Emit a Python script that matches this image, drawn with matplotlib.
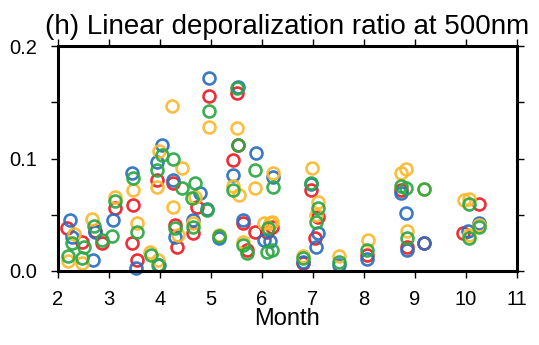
import matplotlib
matplotlib.use("Agg")
import matplotlib.pyplot as plt
from matplotlib.ticker import MultipleLocator

plt.rcParams['font.family'] = ['Liberation Sans', 'DejaVu Sans']

# Data: (month, depolarization ratio) per series
red_x = [2.18, 2.47, 2.73, 2.86, 3.12, 3.47, 3.45, 3.55, 3.95, 4.26, 4.30, 4.34, 4.65, 4.73,
         4.97, 5.50, 5.52, 5.44, 5.63, 5.71, 5.87, 6.10, 6.20,
         6.97, 7.09, 7.03, 6.81, 8.05, 8.72, 8.84, 9.17, 10.25, 9.94]
red_y = [0.038, 0.026, 0.036, 0.025, 0.056, 0.059, 0.025, 0.010, 0.081, 0.078, 0.041, 0.021, 0.034, 0.057,
         0.156, 0.158, 0.112, 0.099, 0.043, 0.019, 0.035, 0.035, 0.039,
         0.072, 0.048, 0.029, 0.007, 0.014, 0.072, 0.021, 0.025, 0.060, 0.034]

blue_x = [2.24, 2.28, 2.69, 2.73, 3.08, 3.45, 3.53, 3.98, 4.04, 3.95, 4.26, 4.65, 4.30, 4.79,
          4.97, 5.52, 5.44, 4.93, 5.16, 5.63, 5.89, 6.03, 6.16, 6.22,
          6.97, 7.09, 7.05, 6.81, 7.50, 8.05, 8.72, 8.82, 8.84, 9.17, 10.04, 10.25]
blue_y = [0.045, 0.030, 0.010, 0.035, 0.045, 0.087, 0.003, 0.005, 0.112, 0.097, 0.081, 0.045, 0.030, 0.069,
          0.172, 0.164, 0.085, 0.055, 0.029, 0.045, 0.105, 0.028, 0.027, 0.084,
          0.077, 0.034, 0.021, 0.008, 0.005, 0.011, 0.069, 0.052, 0.019, 0.025, 0.036, 0.043]

orange_x = [2.31, 2.20, 2.47, 2.67, 3.12, 3.47, 3.55, 3.81, 3.96, 3.98, 3.95, 4.24, 4.44, 4.26, 4.36, 4.65, 4.69,
            4.97, 5.50, 5.44, 5.54, 5.87, 5.16, 5.63, 6.03, 6.16, 6.22, 6.20,
            6.99, 7.09, 7.05, 6.81, 7.50, 8.07, 8.72, 8.82, 8.84, 9.17, 9.96, 10.06, 10.06, 10.25]
orange_y = [0.033, 0.009, 0.007, 0.046, 0.066, 0.072, 0.043, 0.017, 0.010, 0.107, 0.075, 0.147, 0.092, 0.057, 0.032, 0.043, 0.066,
            0.128, 0.127, 0.076, 0.068, 0.074, 0.032, 0.026, 0.043, 0.043, 0.087, 0.044,
            0.092, 0.061, 0.050, 0.013, 0.013, 0.028, 0.087, 0.091, 0.036, 0.073, 0.063, 0.064, 0.032, 0.041]

green_x = [2.20, 2.47, 2.51, 2.71, 2.86, 3.06, 3.12, 2.28, 3.47, 3.55, 3.83, 4.04, 3.95, 4.26, 4.44, 4.69, 4.63,
           4.93, 4.30, 4.65, 3.96,
           4.97, 5.50, 5.52, 5.44, 5.87, 5.16, 5.63, 5.71, 6.12, 6.10, 6.22, 6.20,
           6.97, 7.09, 7.05, 6.81, 7.50, 8.05, 8.72, 8.82, 8.84, 9.17, 10.06, 10.06, 10.25]
green_y = [0.013, 0.012, 0.021, 0.040, 0.028, 0.031, 0.062, 0.025, 0.083, 0.035, 0.014, 0.103, 0.090, 0.100, 0.074, 0.078, 0.065,
           0.054, 0.038, 0.039, 0.005,
           0.142, 0.163, 0.112, 0.072, 0.090, 0.031, 0.023, 0.016, 0.038, 0.017, 0.075, 0.019,
           0.078, 0.056, 0.044, 0.012, 0.008, 0.019, 0.076, 0.074, 0.029, 0.073, 0.060, 0.029, 0.039]

series = [
    (red_x, red_y, '#ee1c25'),
    (blue_x, blue_y, '#2a6fc0'),
    (orange_x, orange_y, '#fbb92e'),
    (green_x, green_y, '#2ca843'),
]

x_ticks = [2, 3, 4, 5, 6, 7, 8, 9, 10, 11]
y_ticks = [0.0, 0.1, 0.2]
y_tick_labels = ['0.0', '0.1', '0.2']

fig = plt.figure(figsize=(5.39, 3.45), dpi=100)
ax = fig.add_axes([58/539, 1-271/345, (517-58)/539, (271-46)/345])

for xs, ys, c in series:
    ax.plot(xs, ys, linestyle='none', marker='o', markersize=8.6, markerfacecolor='none',
            markeredgecolor=c, markeredgewidth=1.9, alpha=0.92, clip_on=False)

ax.set_xlim(2, 11)
ax.set_ylim(0, 0.2)
ax.set_xticks(x_ticks)
ax.set_xticklabels([str(t) for t in x_ticks])
ax.set_yticks(y_ticks)
ax.set_yticklabels(y_tick_labels)
ax.yaxis.set_minor_locator(MultipleLocator(0.05))
ax.tick_params(which='both', direction='out', length=5, width=1.0, top=True, right=True,
               labelsize=14.5, colors='black')
ax.tick_params(axis='x', which='major', pad=9)
ax.tick_params(axis='y', which='major', pad=10)
for s in ax.spines.values():
    s.set_linewidth(2.2)

ax.set_xlabel('Month', fontsize=17, labelpad=-1)
ax.set_title('(h) Linear deporalization ratio at 500nm', fontsize=20, pad=9)

fig.savefig('out.png', dpi=100)
